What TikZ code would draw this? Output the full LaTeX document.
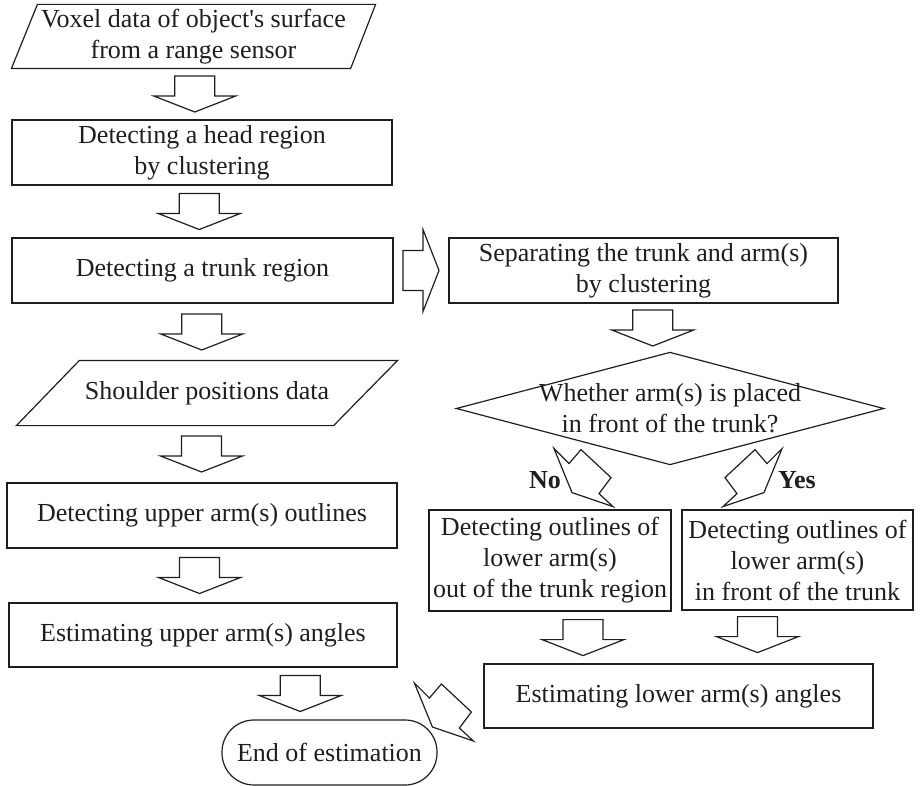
\documentclass[tikz,border=0pt]{standalone}
\usepackage{fontspec}
\setmainfont{Liberation Serif}[Ligatures=TeXOff]
\usepackage{tikz}
\usetikzlibrary{calc}
\definecolor{inkgray}{RGB}{30,30,30}

\tikzset{
  downarr/.pic={\draw (-20,-18) -- (20,-18) -- (20,2) -- (41,2) -- (0,18) -- (-41,2) -- (-20,2) -- cycle;},
  diagarr/.pic={\draw (0,0) -- (15,15) -- (27,1) -- (57,29) -- (45,45) -- (59,58) -- (18,44) -- cycle;}
}

\begin{document}
\begin{tikzpicture}[x=1pt, y=-1pt, line width=1.2pt, draw=inkgray, text=inkgray,
  font=\fontsize{26pt}{31pt}\selectfont,
  procbox/.style={draw, rectangle, align=center, inner sep=0pt, minimum height=65},
  plainbox/.style={rectangle, align=center, inner sep=0pt}]
  \useasboundingbox (0,0) rectangle (921,786);
  % left column
  \node (in) [plainbox, minimum width=363, minimum height=63] at (193.5,36.5) {Voxel data of object's surface\\from a range sensor};
  \draw ($(in.north west)+(26,0)$) -- (in.north east) -- ($(in.south east)+(-25,0)$) -- (in.south west) -- cycle;
  \node (head) [procbox, minimum width=380] at (202,152.5) {Detecting a head region\\by clustering};
  \node (trunk) [procbox, minimum width=381] at (202.5,270.5) {Detecting a trunk region};
  \node (shoulder) [plainbox, minimum width=380, minimum height=64] at (207,393) {Shoulder positions data};
  \draw ($(shoulder.north west)+(63,0)$) -- (shoulder.north east) -- ($(shoulder.south east)+(-64,0)$) -- (shoulder.south west) -- cycle;
  \node (upper) [procbox, minimum width=390] at (202,515.5) {Detecting upper arm(s) outlines};
  \node (estup) [procbox, minimum width=388, minimum height=64] at (203,635) {Estimating upper arm(s) angles};
  \node (end) [draw, rounded corners=32, minimum width=215, minimum height=65, inner sep=0pt] at (329.5,752.5) {End of estimation};
  % right column
  \node (sep) [procbox, minimum width=389] at (643.5,270.5) {Separating the trunk and arm(s)\\by clustering};
  \node (dec) [plainbox, minimum width=426, minimum height=111] at (670,408.5) {Whether arm(s) is placed\\in front of the trunk?};
  \draw (dec.west) -- (dec.north) -- (dec.east) -- (dec.south) -- cycle;
  \node (nolbl) at (545,480) {\bfseries No};
  \node (yeslbl) at (797,480) {\bfseries Yes};
  \node (nobox) [procbox, minimum width=242, minimum height=101] at (550,560.5) {Detecting outlines of\\lower arm(s)\\out of the trunk region};
  \node (yesbox) [procbox, minimum width=231, minimum height=100] at (797.5,560) {Detecting outlines of\\lower arm(s)\\in front of the trunk};
  \node (estlow) [procbox, minimum width=389, minimum height=64] at (678.5,696) {Estimating lower arm(s) angles};
  % block arrows
  \foreach \a/\b in {in/head, head/trunk, trunk/shoulder, shoulder/upper, upper/estup}
    \pic at ($(\a.south)!0.5!(\b.north)+(-3,0)$) {downarr};
  \pic at ($(estup.south)!0.5!(end.north)+(34,0)$) {downarr};
  \pic[rotate=90] at ($(trunk.east)!0.5!(sep.west)$) {downarr};
  \pic at ($(sep.south)!0.5!(dec.north)+(-4,0)$) {downarr};
  \pic at ($(nobox.south)+(33,26)$) {downarr};
  \pic at ($(yesbox.south)+(-40,24)$) {downarr};
  \pic at ($(dec.south)+(-116,-16)$) {diagarr};
  \pic[xscale=-1] at ($(dec.south)+(112,-16)$) {diagarr};
  \pic at ($(estlow.west)+(-69,-13)$) {diagarr};
\end{tikzpicture}
\end{document}
